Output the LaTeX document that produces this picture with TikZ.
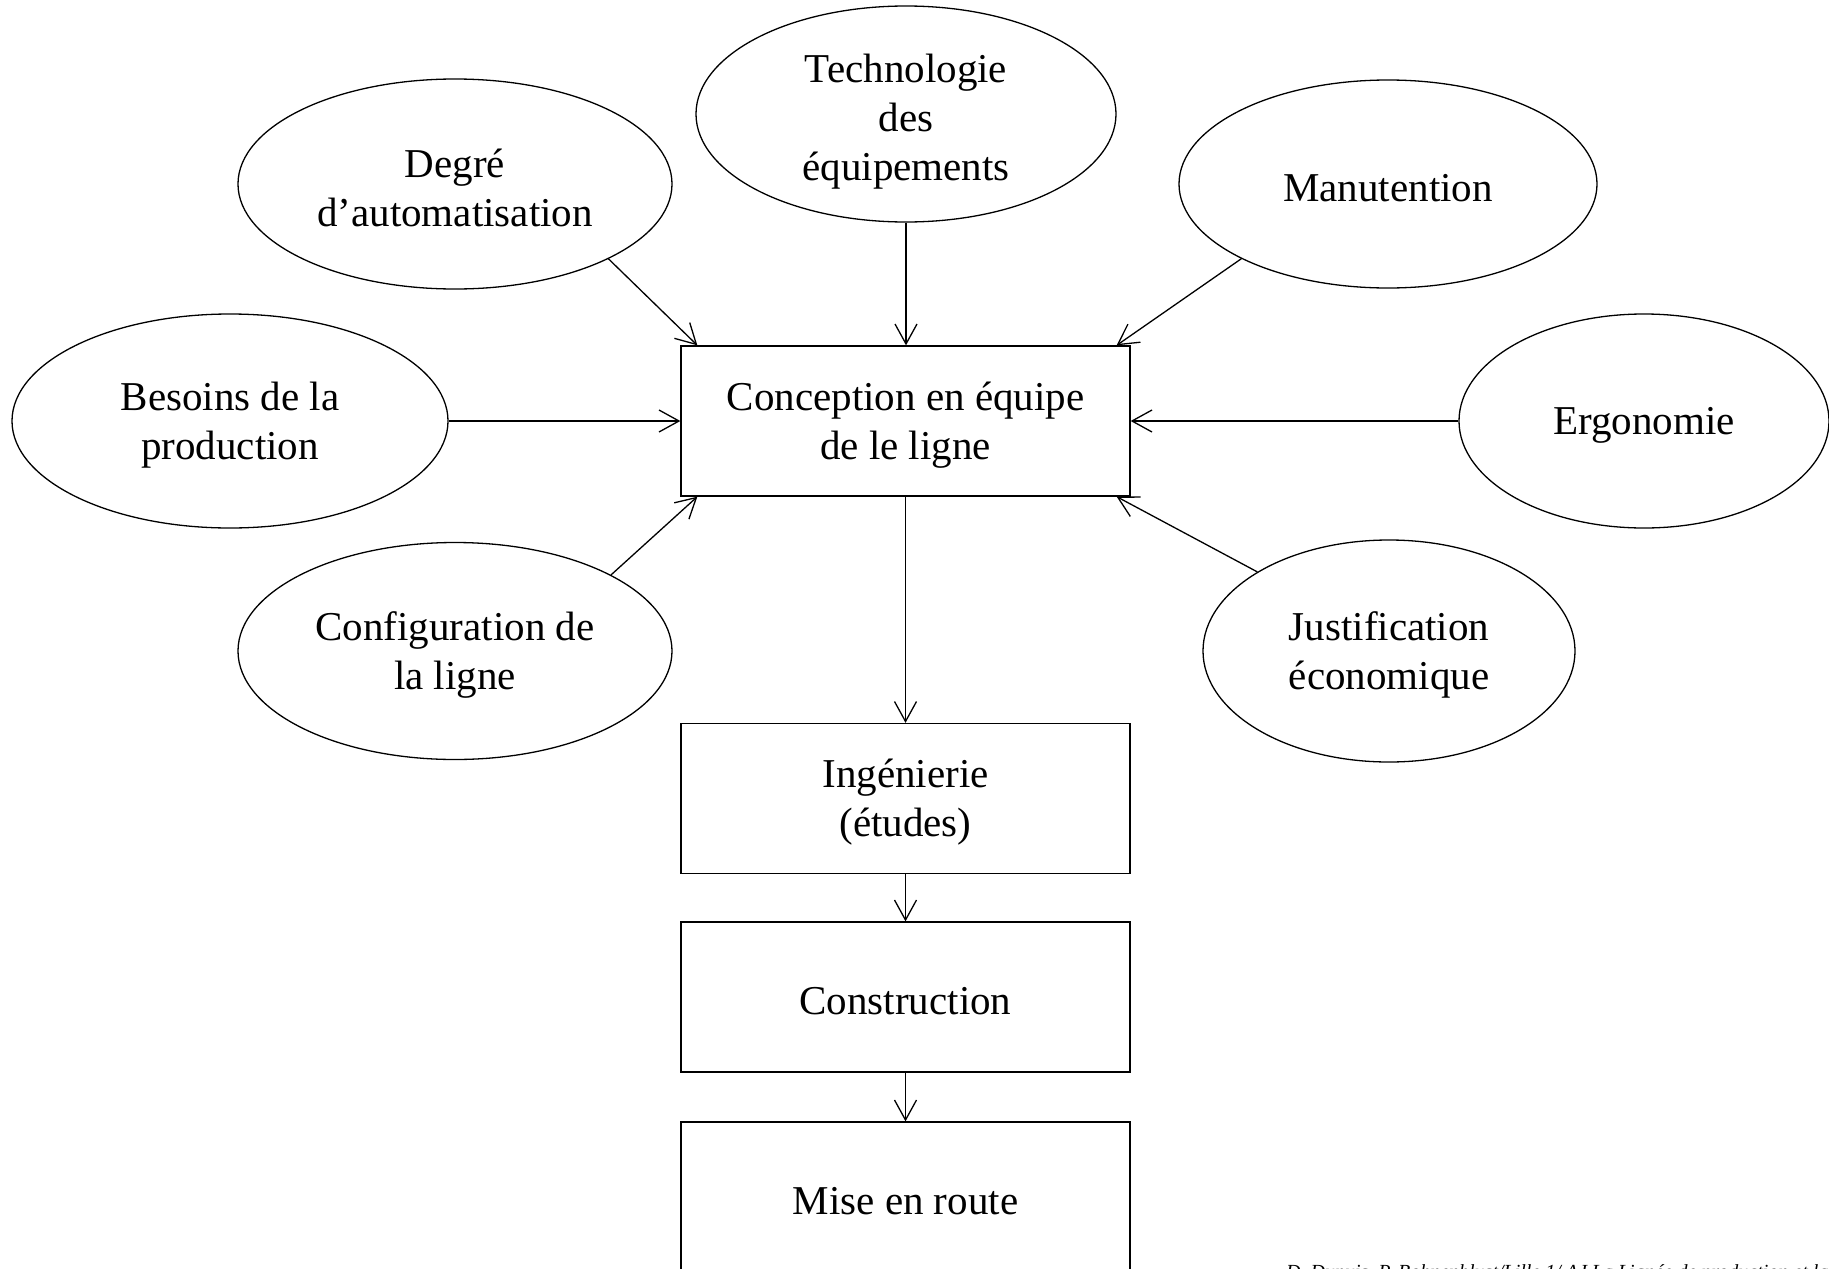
\documentclass[tikz,border=0pt]{standalone}
\usepackage{fontspec}
\setmainfont{Liberation Serif}
\usetikzlibrary{arrows.meta,calc,shapes.geometric}
\begin{document}
\begin{tikzpicture}[x=1pt,y=-1pt,
  lab/.style={font=\fontsize{41}{49}\selectfont, align=center, inner sep=0pt},
  txt/.style={label={[lab, yshift=-4pt]center:{#1}}},
  txtb/.style={label={[lab, yshift=-8pt]center:{#1}}},
  ell/.style={ellipse, draw, line width=1.3pt, inner sep=0pt},
  box/.style={rectangle, draw, line width=1.3pt, minimum width=449pt, minimum height=150pt, inner sep=0pt},
  arr/.style={line width=1.3pt, -{Straight Barb[length=20pt,width=22pt,line width=1.3pt]}},
  foot/.style={font=\fontsize{20}{24}\selectfont\itshape, inner sep=0pt, anchor=base west}
]
\useasboundingbox (0,0) rectangle (1829,1269);
\clip (0,0) rectangle (1829,1269);
\fill[white] (0,0) rectangle (1829,1269);

% boxes
\node[box, txt={Conception en équipe\\de le ligne}] (conc) at (905.5,421) {};
\node[box, txt={Ingénierie\\(études)}] (inge) at (905.5,798.5) {};
\node[box, txt={Construction}] (constr) at (905.5,997) {};
\node[box, txt={Mise en route}] (mise) at (905.5,1197) {};

% ellipses
\node[ell, minimum width=434pt, minimum height=210pt, txt={Degré\\d’automatisation}] (degre) at (455,184) {};
\node[ell, minimum width=420pt, minimum height=216pt, txtb={Technologie\\des\\équipements}] (tech) at (906,114) {};
\node[ell, minimum width=418pt, minimum height=208pt, txt={Manutention}] (manu) at (1388,184) {};
\node[ell, minimum width=436pt, minimum height=214pt, txt={Besoins de la\\production}] (besoins) at (230,421) {};
\node[ell, minimum width=370pt, minimum height=214pt, txt={Ergonomie}] (ergo) at (1644,421) {};
\node[ell, minimum width=434pt, minimum height=217pt, txt={Configuration de\\la ligne}] (config) at (455,651) {};
\node[ell, minimum width=372pt, minimum height=222pt, txt={Justification\\économique}] (justif) at (1389,651) {};

% connectors
\draw[arr] (degre.-26.6) -- ($(conc.north west)+(17,0)$);
\draw[arr] (tech.south) -- (tech.south |- conc.north);
\draw[arr] (manu.207.8) -- ($(conc.north east)+(-14,0)$);
\draw[arr] (besoins.east) -- (conc.west);
\draw[arr] (ergo.west) -- (conc.east);
\draw[arr] (config.26.9) -- ($(conc.south west)+(17,0)$);
\draw[arr] (justif.149.1) -- ($(conc.south east)+(-14,0)$);
\draw[arr] (conc.south) -- (inge.north);
\draw[arr] (inge.south) -- (constr.north);
\draw[arr] (constr.south) -- (mise.north);

% footer (cut off at the bottom edge, as in the reference)
\node[foot] (src) at (1286,1278) {D. Dupuis, P. Bohnenblust/Lille 1/ AJ La Lignée de production et la conception};
\end{tikzpicture}
\end{document}
